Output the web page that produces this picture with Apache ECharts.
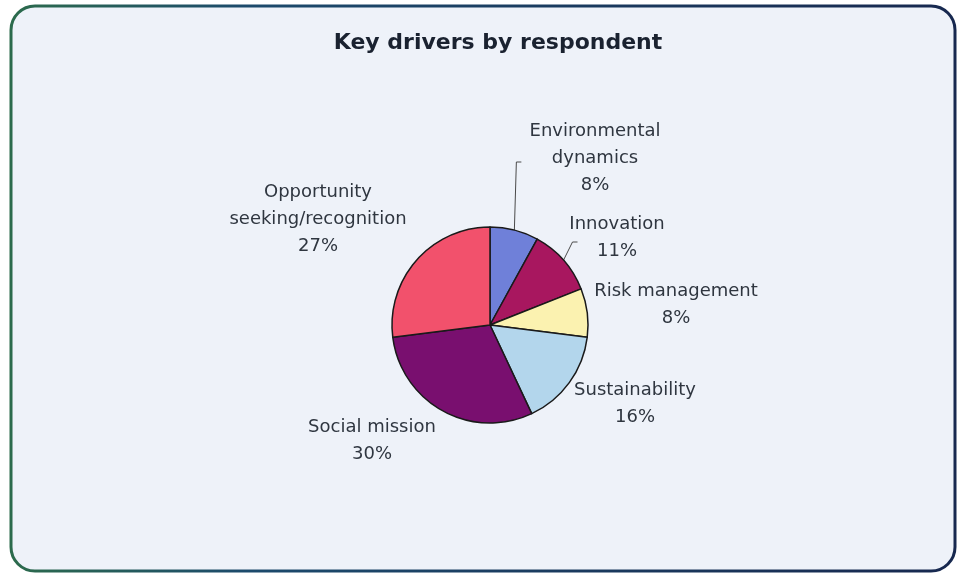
<!DOCTYPE html>
<html>
<head>
<meta charset="utf-8">
<script src="https://cdn.jsdelivr.net/npm/echarts@6/dist/echarts.min.js"></script>
<style>
  html, body { margin: 0; padding: 0; background: #ffffff; }
  #chart { width: 960px; height: 574px; }
</style>
</head>
<body>
<div id="chart"></div>
<script>
// Share of key drivers named by respondents (percent)
const categories = [
  'Environmental\ndynamics',
  'Innovation',
  'Risk management',
  'Sustainability',
  'Social mission',
  'Opportunity\nseeking/recognition'
];
const shares = [8, 11, 8, 16, 30, 27];
const sliceColors = ['#6f80d9', '#a8175f', '#fbf2b0', '#b3d6ec', '#790f6f', '#f2516c'];
// Which slices get a leader line to their label
const showLeader = [true, true, false, false, false, false];
// Label anchor points (centre of each text block)
const labelSpots = [
  [595, 158], [617, 238], [676, 305], [635, 404], [372, 441], [318, 219]
];
// Leader-line elbow: [horizontal offset of bend, y of bend]
const leaderBends = [[2, 162], [9, 242], null, null, null, null];

const chart = echarts.init(document.getElementById('chart'));

chart.setOption({
  backgroundColor: '#ffffff',
  graphic: [{
    type: 'rect',
    z: -10,
    shape: { x: 11, y: 6, width: 944, height: 565, r: 24 },
    style: {
      fill: '#eef2f9',
      lineWidth: 3,
      stroke: new echarts.graphic.LinearGradient(0, 0, 1, 0, [
        { offset: 0, color: '#2c6b4c' },
        { offset: 0.25, color: '#1c4a6c' },
        { offset: 1, color: '#17284f' }
      ])
    }
  }],
  title: {
    text: 'Key drivers by respondent',
    left: 493,
    textAlign: 'center',
    top: 27,
    textStyle: {
      fontFamily: 'DejaVu Sans, sans-serif',
      fontSize: 22,
      fontWeight: 'bold',
      color: '#1a2230'
    }
  },
  series: [{
    type: 'pie',
    center: [490, 325],
    radius: 98,
    startAngle: 90,
    clockwise: true,
    animation: false,
    itemStyle: { borderColor: '#1a1a1a', borderWidth: 1.5 },
    label: {
      show: true,
      formatter: '{b}\n{d}%',
      fontFamily: 'DejaVu Sans, sans-serif',
      fontSize: 18,
      lineHeight: 27,
      color: '#2f3640',
      align: 'center'
    },
    labelLine: {
      show: true,
      lineStyle: { color: '#4a4a4a', width: 1 }
    },
    labelLayout: function (p) {
      const i = p.dataIndex;
      const s = labelSpots[i];
      const out = { x: s[0], y: s[1], align: 'center', verticalAlign: 'middle' };
      const bend = leaderBends[i];
      if (bend && p.labelLinePoints) {
        const p0 = p.labelLinePoints[0];
        const bx = p0[0] + bend[0];
        out.labelLinePoints = [p0, [bx, bend[1]], [bx + 5, bend[1]]];
      }
      return out;
    },
    data: categories.map((name, i) => ({
      name: name,
      value: shares[i],
      itemStyle: { color: sliceColors[i] },
      labelLine: { show: showLeader[i] }
    }))
  }]
});
</script>
</body>
</html>
